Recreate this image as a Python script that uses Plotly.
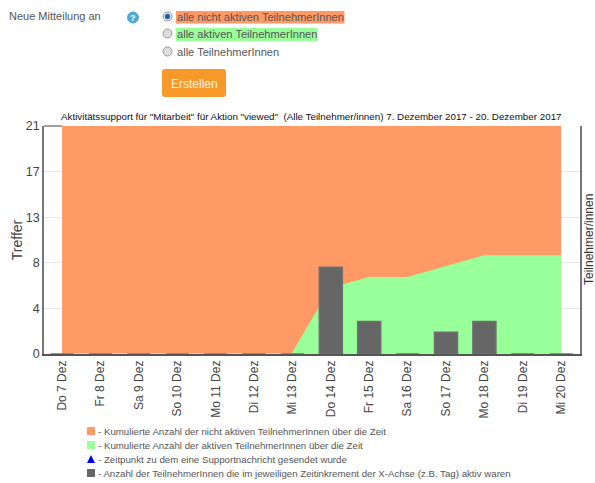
import plotly.graph_objects as go

W, H = 595, 483
days = ["Do 7 Dez", "Fr 8 Dez", "Sa 9 Dez", "So 10 Dez", "Mo 11 Dez", "Di 12 Dez", "Mi 13 Dez",
        "Do 14 Dez", "Fr 15 Dez", "Sa 16 Dez", "So 17 Dez", "Mo 18 Dez", "Di 19 Dez", "Mi 20 Dez"]
active_cum = [0, 0, 0, 0, 0, 0, 0, 6, 7, 7, 8, 9, 9, 9]
inactive_cum = [21, 21, 21, 21, 21, 21, 21, 15, 14, 14, 13, 12, 12, 12]
active_per_day = [0, 0, 0, 0, 0, 0, 0, 8, 3, 0, 2, 3, 0, 0]
y_tickvals = [0, 4.2, 8.4, 12.6, 16.8, 21]
y_ticktext = ["0", "4", "8", "13", "17", "21"]
title = 'Aktivitätssupport für "Mitarbeit" für Aktion "viewed"  (Alle Teilnehmer/innen) 7. Dezember 2017 - 20. Dezember 2017'
legend_items = ["- Kumulierte Anzahl der nicht aktiven TeilnehmerInnen über die Zeit",
                "- Kumulierte Anzahl der aktiven TeilnehmerInnen über die Zeit",
                "- Zeitpunkt zu dem eine Supportnachricht gesendet wurde",
                "- Anzahl der TeilnehmerInnen die im jeweiligen Zeitinkrement der X-Achse (z.B. Tag) aktiv waren"]
radio_labels = ["alle nicht aktiven TeilnehmerInnen", "alle aktiven TeilnehmerInnen", "alle TeilnehmerInnen"]

ORANGE, GREEN, DARK = "#FF9966", "#99FF99", "#666666"
FONT = "Liberation Sans"
TXT = "#555555"
ML, MR, MT, MB = 44, 15, 126, 129

def px(x): return (x - ML) / (W - ML - MR)
def py(y): return (H - MB - y) / (H - MT - MB)

fig = go.Figure()
fig.add_trace(go.Scatter(x=days, y=active_cum, stackgroup="a", mode="lines", fillcolor=GREEN,
                         line=dict(color=GREEN, width=1), showlegend=False))
fig.add_trace(go.Scatter(x=days, y=inactive_cum, stackgroup="a", mode="lines", fillcolor=ORANGE,
                         line=dict(color=ORANGE, width=1), showlegend=False))
# edge of the green area, kept above the orange fill so it shows along the baseline
fig.add_trace(go.Scatter(x=days, y=active_cum, yaxis="y2", mode="lines", cliponaxis=False,
                         line=dict(color=GREEN, width=2), showlegend=False))
fig.add_trace(go.Bar(x=days, y=active_per_day, yaxis="y3", cliponaxis=False,
                     marker=dict(color=DARK, line=dict(color="#707070", width=1.5)),
                     width=0.6, showlegend=False))

ann, shapes = [], []
def text(x, y, s, size=11, color=TXT, anchor="left", **kw):
    ann.append(dict(xref="paper", yref="paper", x=px(x), y=py(y), text=s, showarrow=False, xanchor=anchor,
                    yanchor="middle", font=dict(family=FONT, size=size, color=color), **kw))
def rect(x0, y0, x1, y1, fill, **kw):
    shapes.append(dict(type="rect", xref="paper", yref="paper", x0=px(x0), x1=px(x1), y0=py(y0), y1=py(y1),
                       fillcolor=fill, line=dict(width=0), **kw))
def circle(cx, cy, r, fill, line="#AAAAAA", lw=1):
    shapes.append(dict(type="circle", xref="paper", yref="paper", x0=px(cx - r), x1=px(cx + r), y0=py(cy - r), y1=py(cy + r),
                       fillcolor=fill, line=dict(color=line, width=lw)))

# form controls above the chart
text(6.5, 16, "Neue Mitteilung an", 11)
circle(133, 17.5, 5.5, "#4FA8D8", "#4FA8D8")
text(133, 17.5, "<b>?</b>", 9, "white", "center")
rect(176, 11, 344.5, 23.5, ORANGE)
rect(176, 28, 317.5, 41, GREEN)
for yy, lab in zip([17, 34.5, 52], radio_labels):
    text(175, yy, lab, 11.1)
for yy, on in zip([16.5, 33.5, 51.5], [True, False, False]):
    circle(167.5, yy, 4.5, "#DDDDDD", "#999999")
    if on:
        circle(167.5, yy, 2.2, "#1F5F9F", "#1F5F9F")
x0, x1, y0, y1 = px(162), px(226), py(69), py(97)
rx, ry = 3 / (W - ML - MR), 3 / (H - MT - MB)
shapes.append(dict(type="path", xref="paper", yref="paper", fillcolor="#F7982A", line=dict(width=0),
                   path=f"M{x0+rx},{y0} L{x1-rx},{y0} Q{x1},{y0} {x1},{y0-ry} L{x1},{y1+ry} Q{x1},{y1} {x1-rx},{y1} "
                        f"L{x0+rx},{y1} Q{x0},{y1} {x0},{y1+ry} L{x0},{y0-ry} Q{x0},{y0} {x0+rx},{y0} Z"))
text(194, 83.5, "Erstellen", 12, "#FFF1DD", "center")

# chart title, right axis caption and the dark top rule left of the area
text(311, 116, title, 9.8, "#111111", "center")
text(589, 240, "Teilnehmer/innen", 12, "#333333", "center", textangle=-90)
shapes.append(dict(type="line", xref="paper", yref="paper", x0=px(44), x1=px(62), y0=1, y1=1,
                   line=dict(color="#444444", width=1)))

# key below the chart
for yy, lab in zip([431, 445, 459, 473], legend_items):
    text(95.5, yy, lab, 9.7, "#555555")
rect(87, 427, 95, 435, ORANGE)
rect(87, 441, 95, 449, GREEN)
tx0, tx1, tm, ty0, ty1 = px(87), px(95), px(91), py(463), py(455)
shapes.append(dict(type="path", xref="paper", yref="paper", fillcolor="#0000EE", line=dict(width=0),
                   path=f"M{tx0},{ty0} L{tx1},{ty0} L{tm},{ty1} Z"))
rect(87, 469, 95, 477, DARK)

hidden = dict(range=[0, 21], overlaying="y", visible=False, automargin=False)
fig.update_layout(
    width=W, height=H, autosize=False, paper_bgcolor="white", plot_bgcolor="white", showlegend=False,
    margin=dict(l=ML, r=MR, t=MT, b=MB, autoexpand=False), annotations=ann, shapes=shapes, barmode="overlay",
    font=dict(family=FONT), hovermode=False,
    xaxis=dict(type="category", categoryorder="array", categoryarray=days, range=[-0.47, 13.49], automargin=False,
               tickangle=-90, tickfont=dict(size=12, color="#444444", family=FONT), ticks="", layer="below traces",
               showgrid=False, showline=True, linecolor="#555555", linewidth=1.5, zeroline=False),
    yaxis=dict(range=[0, 21], tickvals=y_tickvals, ticktext=y_ticktext, tickfont=dict(size=12.5, color="#444444", family=FONT),
               ticks="", gridcolor="#E6E6E6", gridwidth=1, showline=True, linecolor="#777777", linewidth=1.5, zeroline=False,
               mirror=True, automargin=False,
               title=dict(text="Treffer", standoff=0, font=dict(size=14, color="#444444", family=FONT))),
    yaxis2=hidden,
    yaxis3=hidden,
)
fig.write_html("out.html", config={"displayModeBar": False}, post_script="document.body.style.margin='0';")
